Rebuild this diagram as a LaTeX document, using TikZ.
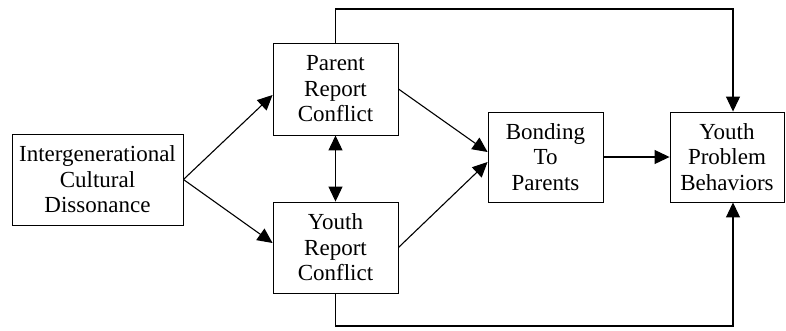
\documentclass[tikz,border=0pt]{standalone}
\usepackage{fontspec}
\setmainfont{Liberation Serif}
\usetikzlibrary{positioning,calc,arrows.meta}

\begin{document}
\begin{tikzpicture}[
    x=1pt, y=-1pt,
    varbox/.style={draw=black, line width=0.9pt, align=center, inner sep=0pt,
                   font=\fontsize{23}{25.5}\selectfont},
    arr/.style={-{Triangle[length=15pt,width=14pt]}, line width=1.1pt},
    dblarr/.style={{Triangle[length=15pt,width=14pt]}-{Triangle[length=15pt,width=14pt]}, line width=1.1pt},
]
\fill[white] (0,0) rectangle (786,330);
\useasboundingbox (0,0) rectangle (786,330);
% variables
\node[varbox, minimum width=171pt, minimum height=91pt] (icd) at (97.5,179.5) {Intergenerational\\Cultural\\Dissonance};
\node[varbox, minimum width=125pt, minimum height=92pt] (prc) at (335.5,89) {Parent\\Report\\Conflict};
\node[varbox, minimum width=125pt, minimum height=91pt] (yrc) at (335.5,247.5) {Youth\\Report\\Conflict};
\node[varbox, minimum width=115pt, minimum height=90pt] (btp) at (545.5,157) {Bonding\\To\\Parents};
\node[varbox, minimum width=114pt, minimum height=90pt] (ypb) at (727,157) {Youth\\Problem\\Behaviors};
% rails for the direct paths
\coordinate (toprail) at (733,9);
\coordinate (botrail) at (733,326);
% paths
\draw[arr] (icd.east) -- ([yshift=-6pt]prc.west);
\draw[arr] (icd.east) -- ([yshift=4.5pt]yrc.west);
\draw[dblarr] (prc.south) -- (yrc.north);
\draw[arr] (prc.east) -- ([yshift=5pt]btp.west);
\draw[arr] (yrc.east) -- ([yshift=-5pt]btp.west);
\draw[arr] (btp.east) -- (ypb.west);
\draw[arr] (prc.north) |- (toprail) -- (ypb.north -| toprail);
\draw[arr] (yrc.south) |- (botrail) -- (ypb.south -| botrail);
\end{tikzpicture}
\end{document}
